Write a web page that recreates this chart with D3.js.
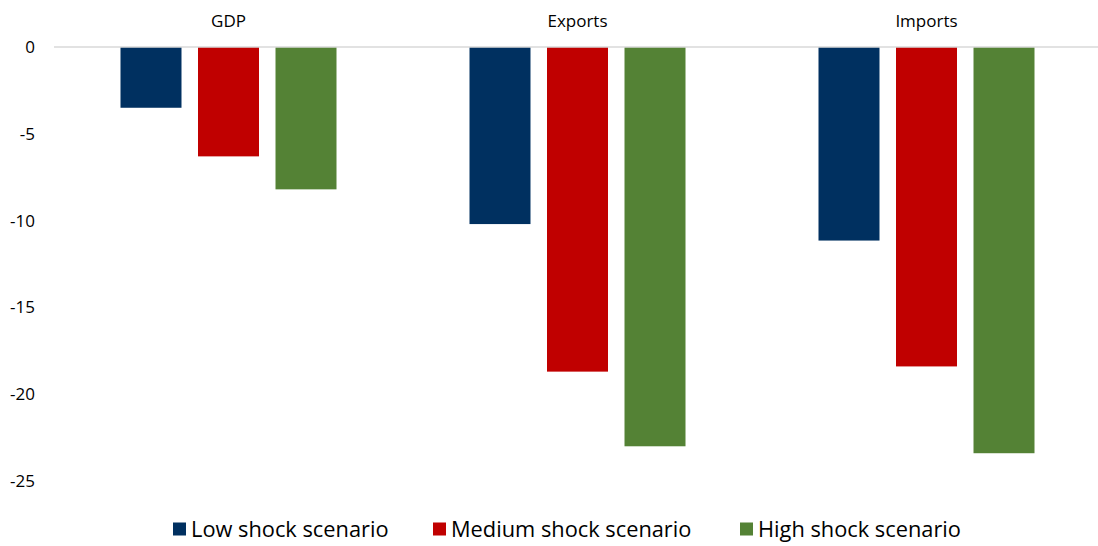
<!DOCTYPE html>
<html>
<head>
<meta charset="utf-8">
<script src="https://cdn.jsdelivr.net/npm/d3@7"></script>
<style>
  html, body { margin: 0; padding: 0; background: #fff; }
  svg { display: block; font-family: "Open Sans", "Noto Sans", sans-serif; }
</style>
</head>
<body>
<svg id="chart" width="1098" height="546"></svg>
<script>
// Change under each scenario, by indicator
const categories = ["GDP", "Exports", "Imports"];
const seriesNames = ["Low shock scenario", "Medium shock scenario", "High shock scenario"];
const lowShock = [-3.5, -10.2, -11.15];
const mediumShock = [-6.3, -18.7, -18.4];
const highShock = [-8.2, -23.0, -23.4];
const yTicks = [0, -5, -10, -15, -20, -25];
const colors = ["#003060", "#c00000", "#548235"];

const seriesValues = [lowShock, mediumShock, highShock];
const rows = categories.map((c, i) => ({
  category: c,
  values: seriesNames.map((s, j) => ({ series: s, value: seriesValues[j][i] }))
}));

const svg = d3.select("#chart");
const plot = { left: 54, right: 1101, top: 47, bottom: 481 };

const y = d3.scaleLinear().domain([0, -25]).range([plot.top, plot.bottom]);
const x0 = d3.scaleBand().domain(categories).range([plot.left, plot.right]).padding(0);
const groupW = 216;
const groupOffset = (x0.bandwidth() - groupW) / 2;
const x1 = d3.scaleBand().domain(seriesNames)
  .range([groupOffset, groupOffset + groupW])
  .paddingInner(0.213).paddingOuter(0);
const color = d3.scaleOrdinal().domain(seriesNames).range(colors);

// y-axis labels (no axis line, no ticks)
const yAxis = d3.axisLeft(y).tickValues(yTicks).tickSize(0).tickPadding(0)
  .tickFormat(d => String(d));
const yG = svg.append("g").attr("transform", `translate(35,0)`).call(yAxis);
yG.select(".domain").remove();
yG.selectAll("text")
  .attr("font-size", 17).attr("fill", "#000")
  .style("font-family", "'Open Sans', 'Noto Sans', sans-serif");

// bars
const groups = svg.append("g").selectAll("g").data(rows).join("g")
  .attr("transform", d => `translate(${x0(d.category)},0)`);
groups.selectAll("rect").data(d => d.values).join("rect")
  .attr("x", d => x1(d.series))
  .attr("y", d => y(Math.max(0, d.value)))
  .attr("width", x1.bandwidth())
  .attr("height", d => Math.abs(y(d.value) - y(0)))
  .attr("fill", d => color(d.series));

// zero baseline
svg.append("line")
  .attr("x1", plot.left).attr("x2", plot.right)
  .attr("y1", y(0)).attr("y2", y(0))
  .attr("stroke", "#d9d9d9").attr("stroke-width", 1.5);

// category labels above the plot
svg.append("g").selectAll("text").data(categories).join("text")
  .attr("x", d => x0(d) + x0.bandwidth() / 2)
  .attr("y", 21)
  .attr("dy", "0.35em")
  .attr("text-anchor", "middle")
  .attr("font-size", 17)
  .attr("fill", "#000")
  .text(d => d);

// legend
const legendX = [173, 433, 740];
const legend = svg.append("g").selectAll("g").data(seriesNames).join("g")
  .attr("transform", (d, i) => `translate(${legendX[i]},529)`);
legend.append("rect")
  .attr("x", 0).attr("y", -6.5).attr("width", 13).attr("height", 13)
  .attr("fill", d => color(d));
legend.append("text")
  .attr("x", 18).attr("y", 0).attr("dy", "0.35em")
  .attr("font-size", 21.8).attr("fill", "#000")
  .text(d => d);
</script>
</body>
</html>
